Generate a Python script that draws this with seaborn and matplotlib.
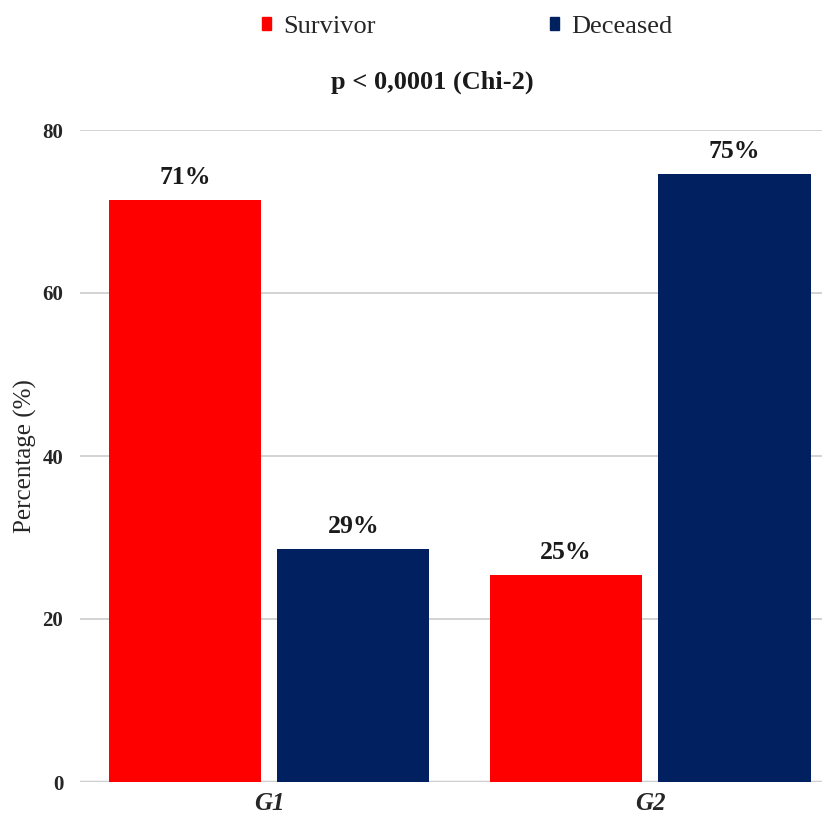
"""
Survival by group: grouped bar chart.
"""
import matplotlib
matplotlib.use('Agg')
import matplotlib.pyplot as plt
import pandas as pd
import seaborn as sns

groups = ['G1', 'G2']
status = ['Survivor', 'Deceased']
survivor = [71.4, 25.4]
deceased = [28.6, 74.6]
bar_labels = ['71%', '25%', '29%', '75%']
colors = ['#FF0000', '#002060']

sns.set_style('white')
plt.rcParams['font.family'] = ['Liberation Serif', 'DejaVu Serif']

df = pd.DataFrame({
    'group': groups * 2,
    'status': [status[0]] * 2 + [status[1]] * 2,
    'pct': survivor + deceased,
})

fig = plt.figure(figsize=(8.26, 8.17), dpi=100)
ax = fig.add_axes([80 / 826, 35 / 817, 742 / 826, 652 / 817])

sns.barplot(data=df, x='group', y='pct', hue='status', hue_order=status,
            palette=colors, width=0.884, gap=0.095, ax=ax, legend=False,
            saturation=1, edgecolor='none')

# подписи над столбиками
for cont, labs in zip(ax.containers, [bar_labels[:2], bar_labels[2:]]):
    ax.bar_label(cont, labels=labs, padding=8, fontsize=18.5, fontweight='bold',
                 color='#1a1a1a')

ax.set_ylim(0, 80)
ax.set_xlim(-0.496, 1.451)
ax.set_yticks([0, 20, 40, 60, 80])
ax.yaxis.grid(True, color='#d0d0d0', linewidth=1.3)
ax.set_axisbelow(True)
for s in ax.spines.values():
    s.set_visible(False)
ax.axhline(0, color='#c8c8c8', linewidth=2.5, zorder=0.5)
ax.tick_params(axis='both', length=0)
ax.tick_params(axis='y', pad=12)
ax.tick_params(axis='x', pad=7)
for t in ax.get_yticklabels():
    t.set_fontsize(15)
    t.set_fontweight('bold')
for t in ax.get_xticklabels():
    t.set_fontsize(18)
    t.set_fontweight('bold')
    t.set_fontstyle('italic')
ax.set_xlabel('')
ax.set_ylabel('Percentage (%)', fontsize=18, labelpad=4)

# легенда сверху
handles = [plt.Rectangle((0, 0), 1, 1, color=c) for c in colors]
fig.legend(handles, status, loc='center', bbox_to_anchor=(467 / 826, 1 - 27 / 817),
           ncol=2, frameon=False, fontsize=19, handlelength=0.36, handleheight=0.36,
           handletextpad=0.45, columnspacing=6.6)

fig.text(432 / 826, 1 - 82 / 817, 'p < 0,0001 (Chi-2)', ha='center', va='center',
         fontsize=19, fontweight='bold', color='#1a1a1a')

plt.savefig('out.png', dpi=100, facecolor='white')
